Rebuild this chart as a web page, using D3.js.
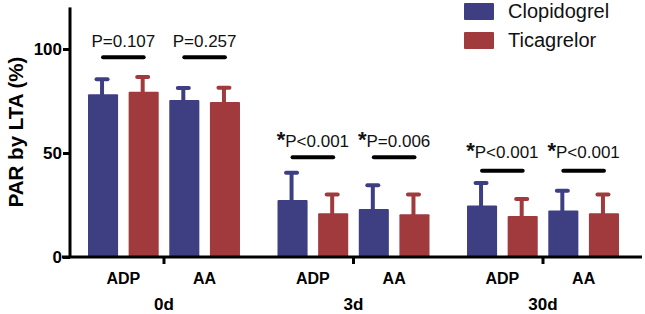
<!DOCTYPE html>
<html><head><meta charset="utf-8">
<script src="https://cdn.jsdelivr.net/npm/d3@7"></script>
<style>
html,body{margin:0;padding:0;background:#fff;}
svg{display:block;font-family:Arial,"Liberation Sans",sans-serif;}
</style></head>
<body><svg id="chart" width="645" height="314"></svg>
<script>
// ---- data ----
const timepoints = ["0d", "3d", "30d"];
const agonists = ["ADP", "AA"];
const drugs = ["Clopidogrel", "Ticagrelor"];
// order: 0d ADP, 0d AA, 3d ADP, 3d AA, 30d ADP, 30d AA
const clopidogrelMean = [78.2, 75.5, 27.4, 23.1, 24.7, 22.3];
const clopidogrelSD   = [7.2, 5.8, 13.1, 11.4, 10.9, 9.6];
const ticagrelorMean  = [79.5, 74.5, 21.0, 20.5, 19.7, 21.0];
const ticagrelorSD    = [7.0, 6.9, 9.1, 9.6, 8.2, 9.1];
const pLabels   = ["P=0.107", "P=0.257", "*P<0.001", "*P=0.006", "*P<0.001", "*P<0.001"];
const sigLevels = [96, 96, 48, 48, 41.5, 41.5];
const yTicks = [0, 50, 100];
const colors = {Clopidogrel: "#3e3f82", Ticagrelor: "#a03a3d"};

const rows = [];
timepoints.forEach((t, ti) => agonists.forEach((a, ai) => {
  const i = ti * 2 + ai;
  rows.push({t, a, i, p: pLabels[i], sig: sigLevels[i],
    vals: [{d: "Clopidogrel", m: clopidogrelMean[i], sd: clopidogrelSD[i]},
           {d: "Ticagrelor", m: ticagrelorMean[i], sd: ticagrelorSD[i]}]});
}));

const svg = d3.select("#chart");
const y = d3.scaleLinear().domain([0, 120]).range([257, 7.4]);
const xT = d3.scaleBand().domain(timepoints).range([88, 619]).paddingInner(0.198).paddingOuter(0);
const xA = d3.scaleBand().domain(agonists).range([0, xT.bandwidth()]).paddingInner(0.13);
const xD = d3.scaleBand().domain(drugs).range([0, xA.bandwidth()]).paddingInner(0.26);

const g = svg.append("g");
const grp = g.selectAll("g.grp").data(rows).join("g")
  .attr("transform", d => `translate(${xT(d.t) + xA(d.a)},0)`);

// bars
grp.selectAll("rect").data(d => d.vals).join("rect")
  .attr("x", v => xD(v.d)).attr("width", xD.bandwidth())
  .attr("y", v => y(v.m)).attr("height", v => y(0) - y(v.m))
  .attr("rx", 1)
  .attr("fill", v => colors[v.d]);

// error bars
const eb = grp.selectAll("g.eb").data(d => d.vals).join("g")
  .attr("stroke", v => colors[v.d]).attr("stroke-width", 4);
eb.append("line")
  .attr("x1", v => xD(v.d) + xD.bandwidth() / 2 - 1).attr("x2", v => xD(v.d) + xD.bandwidth() / 2 - 1)
  .attr("y1", v => y(v.m) + 1).attr("y2", v => y(v.m + v.sd));
eb.append("line").attr("stroke-linecap", "round")
  .attr("x1", v => xD(v.d) + xD.bandwidth() / 2 - 6.5).attr("x2", v => xD(v.d) + xD.bandwidth() / 2 + 4.5)
  .attr("y1", v => y(v.m + v.sd)).attr("y2", v => y(v.m + v.sd));

// significance lines and labels
grp.append("line")
  .attr("x1", xD("Clopidogrel") + xD.bandwidth() / 2)
  .attr("x2", xD("Ticagrelor") + xD.bandwidth() / 2)
  .attr("y1", d => y(d.sig)).attr("y2", d => y(d.sig))
  .attr("stroke", "#000").attr("stroke-width", 4).attr("stroke-linecap", "round");
const lab = grp.append("text")
  .attr("x", xA.bandwidth() / 2)
  .attr("y", d => y(d.sig) - 10.5 - (d.i >= 4 ? 2.5 : 0))
  .attr("text-anchor", "middle").attr("font-size", 17).attr("fill", "#111");
lab.each(function(d) {
  const el = d3.select(this);
  if (d.p.startsWith("*")) {
    el.append("tspan").attr("font-size", 22).attr("font-weight", "bold").text("*");
    el.append("tspan").attr("font-size", 17).text(d.p.slice(1));
  } else el.text(d.p);
});

// y axis
const yAxis = svg.append("g").attr("transform", "translate(70,0)")
  .call(d3.axisLeft(y).tickValues(yTicks).tickSize(7).tickPadding(1).tickFormat(d3.format("d")));
yAxis.select(".domain").attr("d", `M0,${y(120)}V${y(0)}`).attr("stroke-width", 3);
yAxis.selectAll(".tick line").attr("stroke-width", 3);
yAxis.selectAll(".tick text").attr("font-size", 17).attr("font-weight", "bold").attr("fill", "#000")
  .attr("font-family", "Arial, 'Liberation Sans', sans-serif");

// x axis
const xAxisG = svg.append("g").attr("transform", `translate(0,${y(0)})`);
xAxisG.append("line").attr("x1", 62).attr("x2", 642).attr("y1", 0).attr("y2", 0)
  .attr("stroke", "#000").attr("stroke-width", 3);
xAxisG.selectAll("line.tk").data(timepoints).join("line")
  .attr("x1", t => xT(t) + xT.bandwidth() / 2).attr("x2", t => xT(t) + xT.bandwidth() / 2)
  .attr("y1", 0).attr("y2", 7).attr("stroke", "#000").attr("stroke-width", 3);
xAxisG.selectAll("text.ag").data(rows).join("text")
  .attr("x", d => xT(d.t) + xA(d.a) + xA.bandwidth() / 2)
  .attr("y", 26.5).attr("text-anchor", "middle")
  .attr("font-size", 16).attr("font-weight", "bold").text(d => d.a);
xAxisG.selectAll("text.tp").data(timepoints).join("text")
  .attr("x", t => xT(t) + xT.bandwidth() / 2)
  .attr("y", 53).attr("text-anchor", "middle")
  .attr("font-size", 17).attr("font-weight", "bold").text(t => t);

// y title
svg.append("text")
  .attr("transform", "translate(22.5,132) rotate(-90)")
  .attr("text-anchor", "middle").attr("font-size", 20.5).attr("font-weight", "bold")
  .text("PAR by LTA (%)");

// legend
const leg = svg.append("g").selectAll("g").data(drugs).join("g")
  .attr("transform", (d, i) => `translate(464,${3 + i * 29})`);
leg.append("rect").attr("width", 30).attr("height", 17).attr("rx", 1).attr("fill", d => colors[d]);
leg.append("text").attr("x", 44).attr("y", 15).attr("font-size", 20).attr("fill", "#111").text(d => d);
</script></body></html>
